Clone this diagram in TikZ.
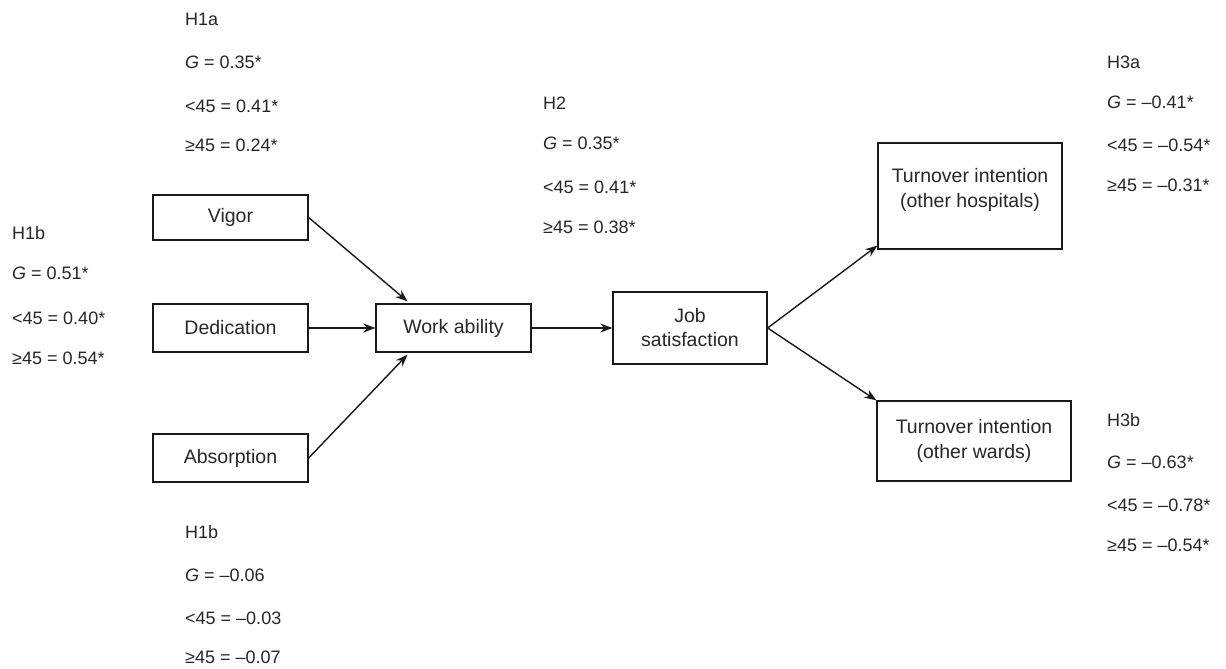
\documentclass[tikz,border=0pt]{standalone}
\usepackage{fontspec}
\setmainfont{Liberation Sans}
\usetikzlibrary{arrows.meta}
\newcommand{\labfont}{\fontsize{18}{24}\selectfont}
\newcommand{\boxfont}{\fontsize{19.5}{25}\selectfont}
\tikzset{
  lab/.style={anchor=base west, inner sep=0pt, font=\labfont, text=black!85},
  box/.style={draw=black!90, line width=1.3pt, inner sep=2pt, align=center, font=\boxfont, text=black!85},
  arr/.style={draw=black!90, line width=1.4pt, -{Stealth[length=12pt,width=9pt]}}
}
\begin{document}
\begin{tikzpicture}[x=1pt,y=-1pt]
\useasboundingbox (0,0) rectangle (1226,669);
% boxes
\node[box, minimum width=155pt, minimum height=45pt] (vigor) at (230.5,217.5) {Vigor};
\node[box, minimum width=155pt, minimum height=48pt] (ded) at (230.5,328) {Dedication};
\node[box, minimum width=155pt, minimum height=48pt] (abs) at (230.5,458) {Absorption};
\node[box, minimum width=155pt, minimum height=48pt] (work) at (453.5,328) {Work ability};
\node[box, minimum width=154pt, minimum height=72pt] (job) at (690,328) {Job\\[-1pt]satisfaction};
\node[box, minimum width=184pt, minimum height=106pt] (top) at (970,196) {};
\node[anchor=center, align=center, inner sep=0pt, font=\boxfont, text=black!85] (toptext) at (top.center) [yshift=6pt] {Turnover intention\\(other hospitals)};
\node[box, minimum width=194pt, minimum height=80pt] (bot) at (974,441) {Turnover intention\\(other wards)};
% arrows
\draw[arr] (vigor.east) -- ([xshift=-46pt,yshift=2pt]work.north);
\draw[arr] (ded.east) -- (work.west);
\draw[arr] (abs.east) -- ([xshift=-46pt,yshift=-2pt]work.south);
\draw[arr] (work.east) -- (job.west);
\draw[arr] (job.east) -- ([yshift=4pt]top.south west);
\draw[arr] (job.east) -- (bot.north west);
% H1a
\node[lab] (h1a) at (185,26) {H1a};
\node[lab] (h1ag) at (185,68) {\textit{G} = 0.35*};
\node[lab] (h1al) at (185,112) {<45 = 0.41*};
\node[lab] (h1ah) at (185,151) {≥45 = 0.24*};
% H2
\node[lab] (h2) at (543,109) {H2};
\node[lab] (h2g) at (543,149) {\textit{G} = 0.35*};
\node[lab] (h2l) at (543,193) {<45 = 0.41*};
\node[lab] (h2h) at (543,233) {≥45 = 0.38*};
% H3a
\node[lab] (h3a) at (1107,68) {H3a};
\node[lab] (h3ag) at (1107,108) {\textit{G} = –0.41*};
\node[lab] (h3al) at (1107,151) {<45 = –0.54*};
\node[lab] (h3ah) at (1107,191) {≥45 = –0.31*};
% H1b left
\node[lab] (h1b) at (12,239) {H1b};
\node[lab] (h1bg) at (12,279) {\textit{G} = 0.51*};
\node[lab] (h1bl) at (12,324) {<45 = 0.40*};
\node[lab] (h1bh) at (12,364) {≥45 = 0.54*};
% H1b bottom
\node[lab] (h1c) at (185,538) {H1b};
\node[lab] (h1cg) at (185,581) {\textit{G} = –0.06};
\node[lab] (h1cl) at (185,624) {<45 = –0.03};
\node[lab] (h1ch) at (185,663) {≥45 = –0.07};
% H3b
\node[lab] (h3b) at (1107,426) {H3b};
\node[lab] (h3bg) at (1107,468) {\textit{G} = –0.63*};
\node[lab] (h3bl) at (1107,511) {<45 = –0.78*};
\node[lab] (h3bh) at (1107,551) {≥45 = –0.54*};
\end{tikzpicture}
\end{document}
